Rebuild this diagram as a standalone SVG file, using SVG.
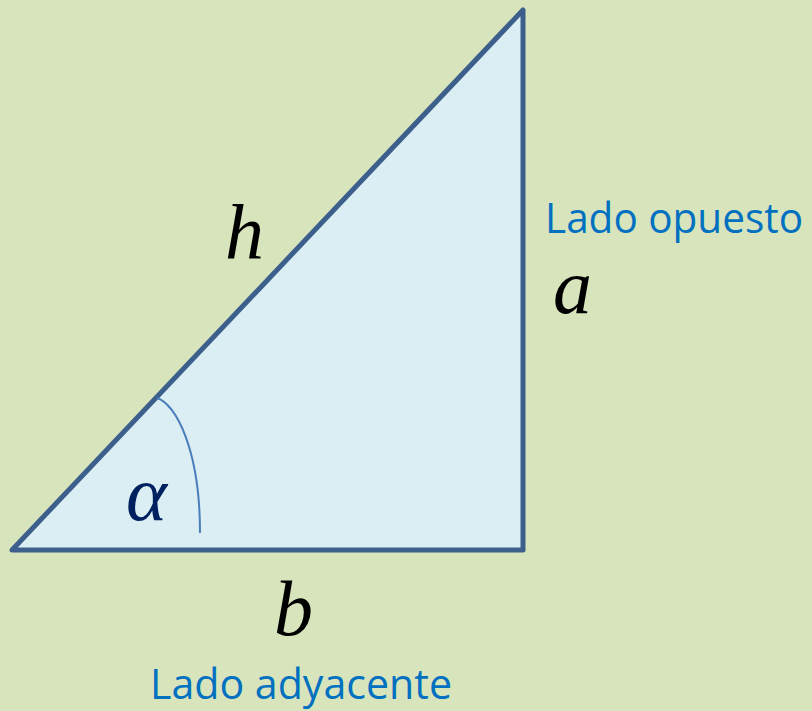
<svg xmlns="http://www.w3.org/2000/svg" width="812" height="711" viewBox="0 0 812 711">
<style>
.lbl{font-family:"Open Sans","Liberation Sans",sans-serif;font-size:42px;fill:#0070c0}
.m{font-family:"Liberation Serif","DejaVu Serif",serif;font-style:italic;font-size:78px;fill:#000}
</style>
<rect width="812" height="711" fill="#d8e4bc"/>
<g id="triangle">
<polygon points="12,550 523,10 523,550" fill="#dbeef4" stroke="#3c5f8c" stroke-width="5" stroke-linejoin="round"/>
</g>
<g id="angle">
<path d="M157,398 C176,404 200,450 200,533" fill="none" stroke="#4a7ebb" stroke-width="2"/>
<text x="126" y="520" class="m" style="fill:#002060">α</text>
</g>
<g id="labels">
<text x="225" y="259" class="m">h</text>
<text x="553" y="313" class="m">a</text>
<text x="274" y="635" class="m">b</text>
<text x="545" y="233" class="lbl" textLength="258" lengthAdjust="spacingAndGlyphs">Lado opuesto</text>
<text x="150" y="699" class="lbl" textLength="302" lengthAdjust="spacingAndGlyphs">Lado adyacente</text>
</g>
</svg>
